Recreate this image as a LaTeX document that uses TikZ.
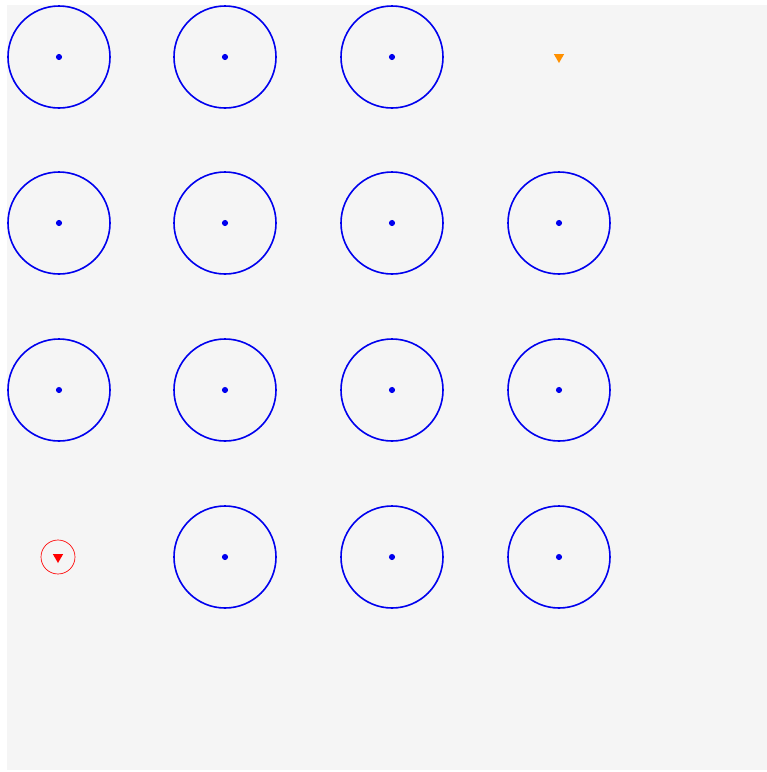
\documentclass[tikz,border=0pt]{standalone}
\usepackage{tikz}
\usetikzlibrary{shapes.geometric}
\definecolor{FieldGrey}{HTML}{F5F5F5}
\definecolor{RingBlue}{HTML}{0000EE}
\definecolor{GoalOrange}{HTML}{FF9000}
\definecolor{StartRed}{HTML}{FF0000}

\begin{document}
\begin{tikzpicture}[x=0.75pt, y=-0.75pt,
    ring/.style={circle, draw=RingBlue, line width=1.2pt,
      minimum size=76.5pt, inner sep=0pt},
    marker/.style={regular polygon, regular polygon sides=3,
      shape border rotate=180, inner sep=0pt, draw=none}]
        % page and grey field
        \useasboundingbox (0,0) rectangle (767,772);
        \fill[FieldGrey] (7,5) rectangle (767,770);
        % first row, goal marker in the last cell
        \node[ring] (r11) at (59,57) {};
        \node[ring] (r12) at (225,57) {};
        \node[ring] (r13) at (392,57) {};
        \node[marker, fill=GoalOrange, minimum size=9pt] (goal) at (559,57) {};
        % second row
        \node[ring] (r21) at (59,223) {};
        \node[ring] (r22) at (225,223) {};
        \node[ring] (r23) at (392,223) {};
        \node[ring] (r24) at (559,223) {};
        % third row
        \node[ring] (r31) at (59,390) {};
        \node[ring] (r32) at (225,390) {};
        \node[ring] (r33) at (392,390) {};
        \node[ring] (r34) at (559,390) {};
        % fourth row, start marker in the first cell
        \node[circle, draw=StartRed, line width=0.5pt, minimum size=25.5pt,
          inner sep=0pt] (startring) at (58,557) {};
        \node[marker, fill=StartRed, minimum size=9pt] (start) at (58,557) {};
        \node[ring] (r42) at (225,557) {};
        \node[ring] (r43) at (392,557) {};
        \node[ring] (r44) at (559,557) {};
        % centre dots
        \foreach \r in {r11,r12,r13,r21,r22,r23,r24,r31,r32,r33,r34,r42,r43,r44}
          \fill[RingBlue] (\r.center) circle (2.3pt);
      \end{tikzpicture}
\end{document}
